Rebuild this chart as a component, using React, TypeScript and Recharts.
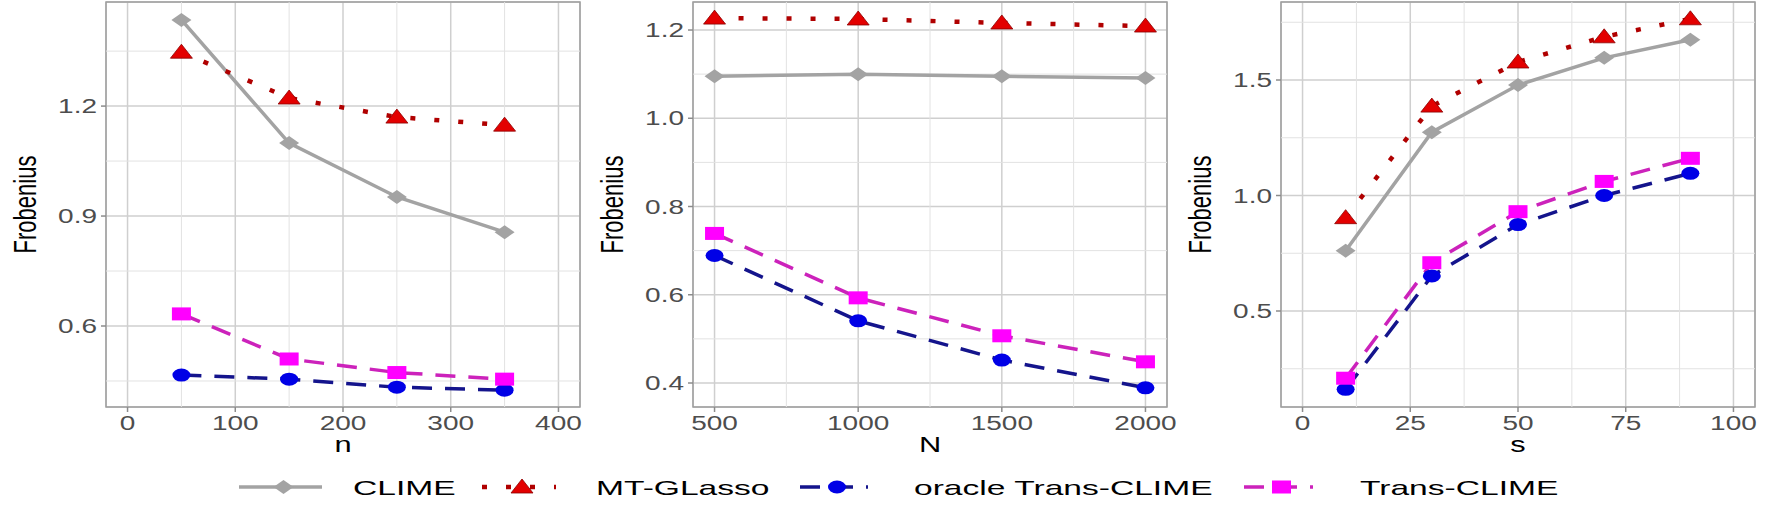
import React from 'react';
import {
  LineChart,
  Line,
  XAxis,
  YAxis,
  CartesianGrid,
  ReferenceLine,
  ReferenceArea,
} from 'recharts';

// ---- panel 1: varying n ----
const nValues = [50, 150, 250, 350];
const nClime = [1.435, 1.099, 0.952, 0.856];
const nMtGlasso = [1.347, 1.222, 1.17, 1.148];
const nOracle = [0.466, 0.455, 0.433, 0.425];
const nTrans = [0.633, 0.51, 0.473, 0.455];
const nXTicks = [0, 100, 200, 300, 400];
const nXMinor = [50, 150, 250, 350];
const nXDomain = [-20, 420];
const nYTicks = [0.6, 0.9, 1.2];
const nYMinor = [0.45, 0.75, 1.05, 1.35];
const nYDomain = [0.379, 1.484];

// ---- panel 2: varying N ----
const bigNValues = [500, 1000, 1500, 2000];
const bigNClime = [1.095, 1.1, 1.095, 1.091];
const bigNMtGlasso = [1.227, 1.225, 1.216, 1.209];
const bigNOracle = [0.689, 0.541, 0.452, 0.389];
const bigNTrans = [0.739, 0.593, 0.507, 0.448];
const bigNXTicks = [500, 1000, 1500, 2000];
const bigNXMinor = [750, 1250, 1750];
const bigNXDomain = [425, 2075];
const bigNYTicks = [0.4, 0.6, 0.8, 1.0, 1.2];
const bigNYMinor = [0.5, 0.7, 0.9, 1.1];
const bigNYDomain = [0.3456, 1.2635];

// ---- panel 3: varying s ----
const sValues = [10, 30, 50, 70, 90];
const sClime = [0.761, 1.274, 1.478, 1.596, 1.674];
const sMtGlasso = [0.904, 1.387, 1.578, 1.687, 1.765];
const sOracle = [0.161, 0.652, 0.874, 1.0, 1.096];
const sTrans = [0.209, 0.709, 0.93, 1.061, 1.161];
const sXTicks = [0, 25, 50, 75, 100];
const sXMinor = [12.5, 37.5, 62.5, 87.5];
const sXDomain = [-5, 105];
const sYTicks = [0.5, 1.0, 1.5];
const sYMinor = [0.25, 0.75, 1.25, 1.75];
const sYDomain = [0.0844, 1.8377];

const FONT = '"Liberation Sans", Arial, Helvetica, sans-serif';

const SERIES = [
  { key: 'clime', name: 'CLIME', line: '#a3a3a3', fill: '#a3a3a3', dash: undefined, width: 3.5, shape: 'diamond' },
  { key: 'mt', name: 'MT-GLasso', line: '#b00000', fill: '#e30000', dash: '5 19', width: 4.5, shape: 'triangle' },
  { key: 'oracle', name: 'oracle Trans-CLIME', line: '#14148c', fill: '#0000e6', dash: '20 13', width: 3.5, shape: 'circle' },
  { key: 'trans', name: 'Trans-CLIME', line: '#cc22bb', fill: '#ff00ff', dash: '20 13', width: 3.5, shape: 'square' },
];

const buildRows = (x: number[], clime: number[], mt: number[], oracle: number[], trans: number[]) =>
  x.map((v, i) => ({ x: v, clime: clime[i], mt: mt[i], oracle: oracle[i], trans: trans[i] }));

const PANELS = [
  {
    left: 0, title: 'n', rows: buildRows(nValues, nClime, nMtGlasso, nOracle, nTrans),
    xTicks: nXTicks, xMinor: nXMinor, xDomain: nXDomain,
    yTicks: nYTicks, yMinor: nYMinor, yDomain: nYDomain,
  },
  {
    left: 587, title: 'N', rows: buildRows(bigNValues, bigNClime, bigNMtGlasso, bigNOracle, bigNTrans),
    xTicks: bigNXTicks, xMinor: bigNXMinor, xDomain: bigNXDomain,
    yTicks: bigNYTicks, yMinor: bigNYMinor, yDomain: bigNYDomain,
  },
  {
    left: 1175, title: 's', rows: buildRows(sValues, sClime, sMtGlasso, sOracle, sTrans),
    xTicks: sXTicks, xMinor: sXMinor, xDomain: sXDomain,
    yTicks: sYTicks, yMinor: sYMinor, yDomain: sYDomain,
  },
];

function Marker({ cx, cy, shape, color }: any) {
  if (cx == null || cy == null) return null;
  if (shape === 'diamond')
    return <path d={`M${cx},${cy - 7} L${cx + 10},${cy} L${cx},${cy + 7} L${cx - 10},${cy} Z`} fill={color} />;
  if (shape === 'triangle')
    return <path d={`M${cx},${cy - 8} L${cx + 11},${cy + 6} L${cx - 11},${cy + 6} Z`} fill={color} stroke="#8a0000" strokeWidth={0.8} />;
  if (shape === 'circle') return <ellipse cx={cx} cy={cy} rx={9} ry={6.5} fill={color} />;
  return <rect x={cx - 9.5} y={cy - 6.5} width={19} height={13} fill={color} />;
}

const XTick = ({ x, y, payload }: any) => (
  <text
    transform={`translate(${x},${y}) scale(1.4,1)`}
    textAnchor="middle"
    dy="0.71em"
    fontSize={20}
    fill="#4d4d4d"
    fontFamily={FONT}
  >
    {payload.value}
  </text>
);

const YTick = ({ x, y, payload }: any) => (
  <text
    transform={`translate(${x},${y}) scale(1.4,1)`}
    textAnchor="end"
    dy="0.36em"
    fontSize={20}
    fill="#4d4d4d"
    fontFamily={FONT}
  >
    {Number(payload.value).toFixed(1)}
  </text>
);

const xTitle = (text: string) => (props: any) => {
  const vb = props.viewBox || { x: 106, y: 407, width: 474, height: 55 };
  return (
    <text
      transform={`translate(${vb.x + vb.width / 2},${vb.y + 45}) scale(1.4,1)`}
      textAnchor="middle"
      fontSize={22}
      fill="#000"
      fontFamily={FONT}
    >
      {text}
    </text>
  );
};

const yTitle = (props: any) => {
  const vb = props.viewBox || { x: 36, y: 2, width: 70, height: 405 };
  return (
    <text
      transform={`translate(${vb.x - 11},${vb.y + vb.height / 2}) scale(1.4,1) rotate(-90)`}
      textAnchor="middle"
      dy="0.36em"
      fontSize={22}
      fill="#000"
      fontFamily={FONT}
    >
      Frobenius
    </text>
  );
};

function Panel({ p }: any) {
  return (
    <div style={{ position: 'absolute', left: p.left, top: 0 }}>
      <LineChart width={600} height={470} data={p.rows} margin={{ top: 2, right: 20, bottom: 8, left: 36 }}>
        <CartesianGrid stroke="#cfcfcf" strokeWidth={1.5} />
        {p.xMinor.map((v: number) => (
          <ReferenceLine key={`vx${v}`} x={v} stroke="#e2e2e2" strokeWidth={1} />
        ))}
        {p.yMinor.map((v: number) => (
          <ReferenceLine key={`hy${v}`} y={v} stroke="#e2e2e2" strokeWidth={1} />
        ))}
        <XAxis
          dataKey="x"
          type="number"
          domain={p.xDomain}
          ticks={p.xTicks}
          interval={0}
          allowDataOverflow
          height={55}
          axisLine={false}
          tickSize={5}
          tickMargin={4}
          tickLine={{ stroke: '#8c8c8c', strokeWidth: 1.5 }}
          tick={<XTick />}
          label={xTitle(p.title)}
        />
        <YAxis
          type="number"
          domain={p.yDomain}
          ticks={p.yTicks}
          interval={0}
          allowDataOverflow
          width={70}
          axisLine={false}
          tickSize={5}
          tickMargin={4}
          tickLine={{ stroke: '#8c8c8c', strokeWidth: 1.5 }}
          tick={<YTick />}
          label={yTitle}
        />
        {SERIES.map((s) => (
          <Line
            key={s.key}
            type="linear"
            dataKey={s.key}
            name={s.name}
            stroke={s.line}
            strokeWidth={s.width}
            strokeDasharray={s.dash}
            isAnimationActive={false}
            dot={(d: any) => <Marker key={`${s.key}${d.index}`} cx={d.cx} cy={d.cy} shape={s.shape} color={s.fill} />}
            activeDot={false}
          />
        ))}
        <ReferenceArea
          x1={p.xDomain[0]}
          x2={p.xDomain[1]}
          y1={p.yDomain[0]}
          y2={p.yDomain[1]}
          fill="none"
          fillOpacity={0}
          stroke="#9e9e9e"
          strokeWidth={1.5}
        />
      </LineChart>
    </div>
  );
}

// legend layout (key start, key end, text start)
const LEGEND_POS = [
  [239, 322, 353],
  [482, 556, 596],
  [800, 868, 914],
  [1244, 1313, 1360],
];

function LegendBar() {
  const cy = 487;
  return (
    <svg width={1770} height={57} style={{ position: 'absolute', left: 0, top: 460 }} viewBox={`0 460 1770 57`}>
      {SERIES.map((s, i) => {
        const [k0, k1, t0] = LEGEND_POS[i];
        return (
          <g key={s.key}>
            <line x1={k0} x2={k1} y1={cy} y2={cy} stroke={s.line} strokeWidth={s.width} strokeDasharray={s.dash} />
            <Marker cx={(k0 + k1) / 2 + 3} cy={cy} shape={s.shape} color={s.fill} />
            <text
              transform={`translate(${t0},${cy + 8}) scale(1.6,1)`}
              fontSize={21}
              fill="#000"
              fontFamily={FONT}
            >
              {s.name}
            </text>
          </g>
        );
      })}
    </svg>
  );
}

export default function App() {
  return (
    <div style={{ position: 'absolute', left: 0, top: 0, width: 1770, height: 517, background: '#fff' }}>
      {PANELS.map((p, i) => (
        <Panel key={i} p={p} />
      ))}
      <LegendBar />
    </div>
  );
}
